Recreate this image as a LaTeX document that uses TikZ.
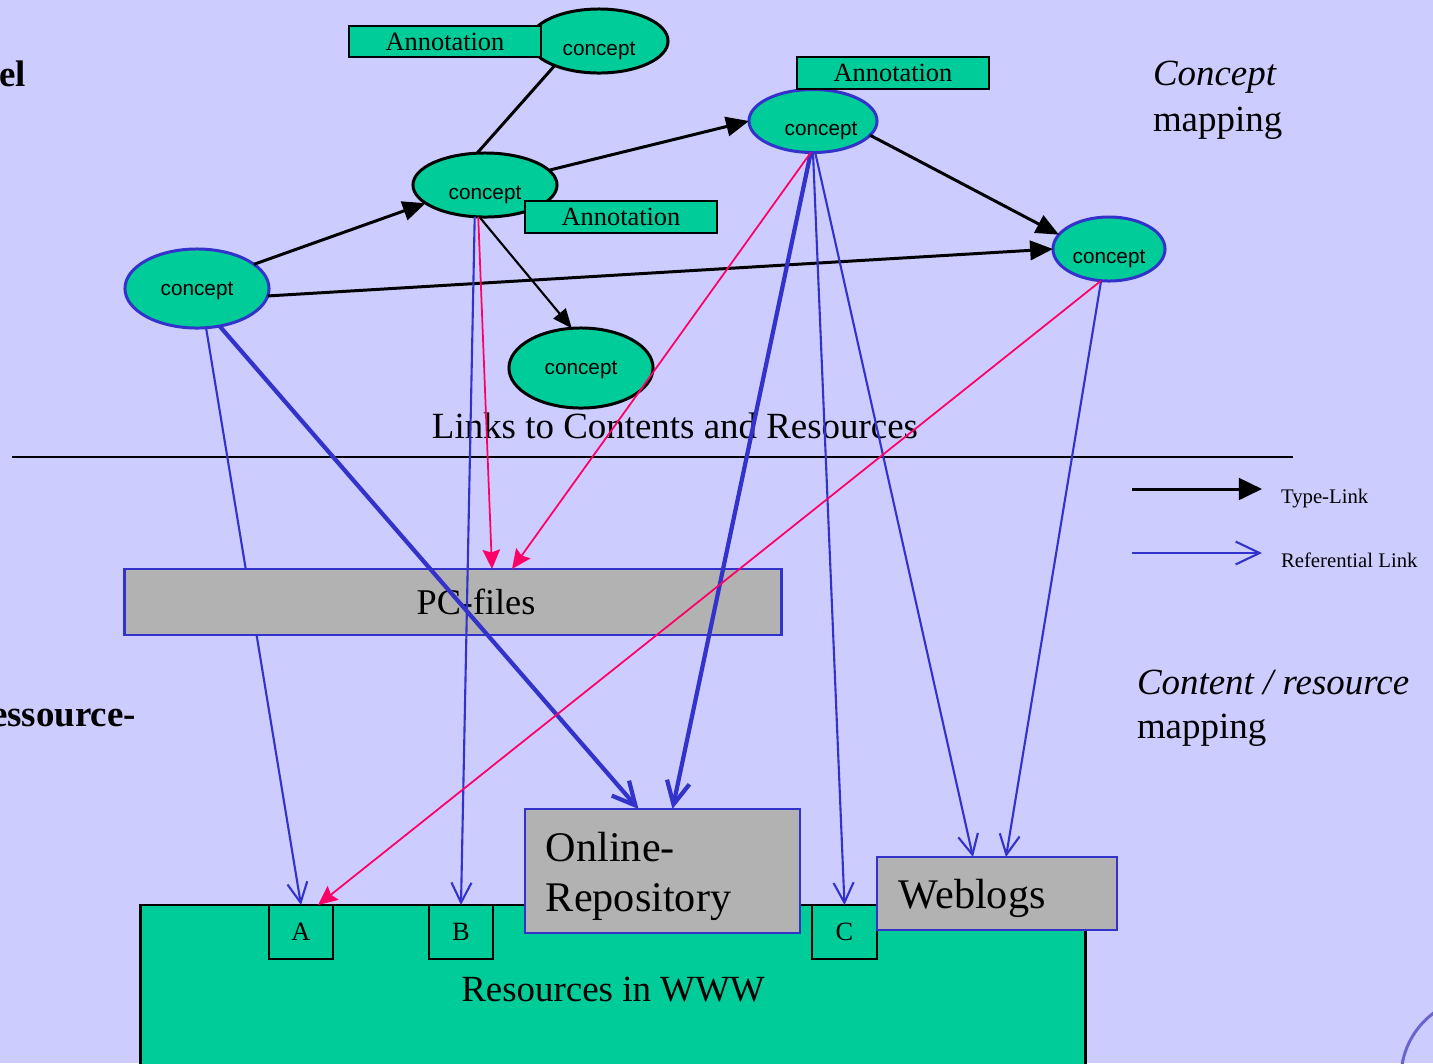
\documentclass[tikz,border=0pt]{standalone}
\usepackage{fontspec}
\setmainfont{Liberation Serif}
\newfontfamily\conceptfont{Liberation Sans}
\usepackage{xcolor}
\usepackage{tikz}
\usetikzlibrary{arrows.meta,shapes.geometric,positioning}
\definecolor{slidebg}{RGB}{204,204,255}
\definecolor{conceptgreen}{RGB}{0,204,153}
\definecolor{filegray}{RGB}{178,178,178}
\definecolor{reflink}{RGB}{51,51,204}
\definecolor{pinklink}{RGB}{255,0,102}
\definecolor{arcblue}{RGB}{102,102,204}

\begin{document}
\begin{tikzpicture}[
  x=0.01cm, y=-0.01cm,
  every node/.style={inner sep=0pt, outer sep=0pt},
  concept_node/.style={ellipse, draw=black, line width=0.85pt, fill=conceptgreen,
    font=\conceptfont\fontsize{5.9}{7}\selectfont},
  concept_blue/.style={concept_node, draw=reflink},
  low_text/.style={text height=8pt, text depth=0pt},
  annot_node/.style={draw=black, line width=0.8pt, fill=conceptgreen,
    minimum width=1.92cm, minimum height=0.32cm, font=\fontsize{7.5}{9}\selectfont},
  res_node/.style={draw=reflink, line width=0.75pt, fill=filegray},
  www_node/.style={draw=black, line width=0.75pt, fill=conceptgreen},
  letter_node/.style={www_node, minimum width=0.64cm, minimum height=0.54cm,
    font=\fontsize{7.5}{9}\selectfont},
  type_link/.style={draw=black, line width=0.85pt, -{Triangle[length=6.5pt,width=5.5pt]}},
  ref_link/.style={draw=reflink, line width=0.6pt, -{Straight Barb[length=5.7pt,width=5.7pt]}},
  ref_thick/.style={ref_link, line width=1.2pt, -{Straight Barb[length=6.5pt,width=6.5pt]}},
  file_link/.style={draw=pinklink, line width=0.5pt, -{Stealth[length=5.5pt,width=5pt,inset=0.8pt]}},
  big_text/.style={font=\fontsize{10.5}{13}\selectfont},
  side_text/.style={font=\fontsize{10.5}{13}\selectfont\bfseries},
  small_text/.style={font=\fontsize{5.9}{7}\selectfont},
]
\fill[slidebg] (0,0) rectangle (1433,1063);
\useasboundingbox (0,0) rectangle (1433,1063);
\draw[arcblue, line width=0.85pt] (1482,1078) circle [radius=0.81cm];

\draw[line width=0.8pt] (12,457) -- (1293,457);

% resources
\node[www_node, minimum width=9.44cm, minimum height=1.70cm, font=\fontsize{10.5}{13}\selectfont]
  (www) at (613,990) {Resources in WWW};
\node[letter_node] (res_a) at (301,932) {A};
\node[letter_node] (res_b) at (461,932) {B};
\node[letter_node, minimum width=0.65cm] (res_c) at (844.5,932) {C};
\node[res_node, minimum width=2.75cm, minimum height=1.24cm] (repo) at (662.5,871) {};
\node[anchor=north west, text width=2.33cm, align=left, font=\fontsize{12}{14.2}\selectfont]
  (repo_text) at ([xshift=0.21cm,yshift=-0.23cm]repo.north west) {Online-\\Repository};
\node[res_node, minimum width=2.40cm, minimum height=0.73cm, text width=1.96cm, align=left,
  text depth=0pt, font=\fontsize{12}{14.2}\selectfont] (weblogs) at (997,893.5) {Weblogs};

% concepts
\node[concept_node, low_text, minimum width=1.38cm, minimum height=0.64cm] (concept_top) at (599,41) {concept};
\node[concept_node, low_text, minimum width=1.44cm, minimum height=0.64cm] (concept_mid) at (485,185) {concept};
\node[concept_blue, text depth=0pt, minimum width=1.44cm, minimum height=0.79cm] (concept_left) at (197,288.5) {concept};
\node[concept_node, text depth=0pt, minimum width=1.44cm, minimum height=0.80cm] (concept_low) at (581,368) {concept};
\node[concept_blue, low_text, minimum width=1.28cm, minimum height=0.63cm] (concept_up) at (813,121) {\hspace*{0.16cm}concept};
\node[concept_blue, low_text, minimum width=1.12cm, minimum height=0.64cm] (concept_far) at (1109,249) {concept};
\node[annot_node, minimum height=0.31cm] (annot_top) at (445,41.5) {Annotation};
\node[annot_node] (annot_mid) at (621,217) {Annotation};
\node[annot_node] (annot_up) at (893,73) {Annotation};

% texts
\node[big_text, anchor=base] (links_title) at (675,438) {Links to Contents and Resources};
\node[big_text, anchor=base west] (map_concept) at (1153,85) {\textit{Concept}};
\node[big_text, anchor=base west] (map_concept2) at (1153,131) {mapping};
\node[big_text, anchor=base west] (map_content) at (1137,694) {\textit{Content / resource}};
\node[big_text, anchor=base west] (map_content2) at (1137,738) {mapping};
\node[side_text, anchor=base east] (side_top) at (26,86) {el};
\node[side_text, anchor=base east] (side_low) at (136,726) {essource-};

% legend
\coordinate (type_from) at (1132,489);
\coordinate (type_to) at (1262,489);
\coordinate (ref_from) at (1132,553);
\coordinate (ref_to) at (1262,553);
\draw[type_link, -{Triangle[length=6.6pt,width=6.2pt]}] (type_from) -- (type_to);
\draw[ref_link, -{Straight Barb[length=6.8pt,width=6.5pt]}] (ref_from) -- (ref_to);
\node[small_text, anchor=base west] (type_label) at (1281,503) {Type-Link};
\node[small_text, anchor=base west] (ref_label) at (1281,567) {Referential Link};

% link behind the pc files
\draw[ref_link] (concept_left.283) -- (res_a.north);
\node[res_node, minimum width=6.56cm, minimum height=0.66cm, font=\fontsize{10.3}{12}\selectfont]
  (pc_files) at (453,602) {\hspace*{0.46cm}PC-files};

% type links
\draw[draw=black, line width=0.85pt] (concept_top.209) -- (concept_mid.104);
\draw[type_link] (concept_left.23) -- (concept_mid.197);
\draw[type_link] (concept_mid.13) -- (concept_up.180);
\draw[type_link] (concept_up.346) -- (concept_far.164);
\draw[type_link] (concept_left.354) -- (concept_far.180);
\draw[type_link, line width=0.6pt, -{Triangle[length=5.5pt,width=4.5pt]}] (concept_mid.260) -- (concept_low.103);

% referential links
\draw[ref_thick] (concept_left.301) -- ([xshift=-0.24cm]repo.north);
\draw[ref_link] (concept_mid.252) -- (res_b.north);
\draw[ref_thick] (concept_up.266) -- ([xshift=0.10cm]repo.north);
\draw[ref_link] (concept_up.270) -- (res_c.north);
\draw[ref_link] (concept_up.274) -- ([xshift=-0.24cm]weblogs.north);
\draw[ref_link] (concept_far.256) -- ([xshift=0.09cm]weblogs.north);

% file links
\draw[file_link] (concept_mid.258) -- ([xshift=0.39cm]pc_files.north);
\draw[file_link] (concept_up.266) -- ([xshift=0.59cm]pc_files.north);
\draw[file_link] (concept_far.256) -- ([xshift=0.17cm]res_a.north);
\end{tikzpicture}
\end{document}
